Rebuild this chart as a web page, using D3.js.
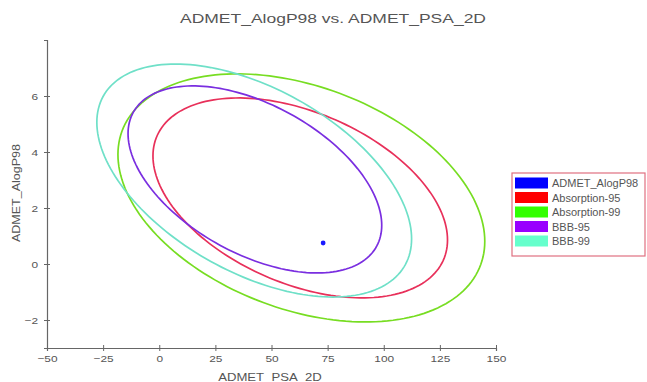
<!DOCTYPE html>
<html>
<head>
<meta charset="utf-8">
<script src="https://cdn.jsdelivr.net/npm/d3@7"></script>
<style>
  html, body { margin: 0; padding: 0; background: #fff; }
  svg { display: block; }
  text { font-family: "Liberation Sans", Arial, sans-serif; fill: #555; }
</style>
</head>
<body>
<svg id="chart" width="647" height="382"></svg>
<script>
// Compound position
const psaValues = [73];
const alogpValues = [0.75];

// Confidence ellipses: centre, half extents along each axis, and correlation
const ellipseNames = ["Absorption-95", "Absorption-99", "BBB-95", "BBB-99"];
const ellipseCx = [62.8, 63.3, 42.6, 42.3];
const ellipseCy = [2.36, 2.36, 3.02, 2.98];
const ellipseHalfX = [65.6, 81.7, 56.5, 70.1];
const ellipseHalfY = [3.57, 4.43, 3.34, 4.16];
const ellipseCorr = [-0.42, -0.35, -0.49, -0.5];

const legendLabels = ["ADMET_AlogP98", "Absorption-95", "Absorption-99", "BBB-95", "BBB-99"];
const legendColors = ["#0000ff", "#ff0000", "#33ff00", "#9900ff", "#66ffcc"];
const ellipseStroke = ["#e8305a", "#77dd22", "#7a2ee0", "#6fe0c8"];

const xTicks = [-50, -25, 0, 25, 50, 75, 100, 125, 150];
const yTicks = [-2, 0, 2, 4, 6];

const svg = d3.select("#chart");
const x = d3.scaleLinear().domain([-50, 150]).range([47, 496]);
const y = d3.scaleLinear().domain([-3, 8]).range([348, 40]);

// Title
svg.append("text")
  .attr("x", 333).attr("y", 23)
  .attr("text-anchor", "middle")
  .attr("font-size", 12.5)
  .attr("textLength", 306).attr("lengthAdjust", "spacingAndGlyphs")
  .style("fill", "#555")
  .text("ADMET_AlogP98 vs. ADMET_PSA_2D");

// Ellipses
const line = d3.line().curve(d3.curveLinearClosed).x(d => x(d[0])).y(d => y(d[1]));
ellipseNames.forEach((name, i) => {
  const delta = Math.acos(ellipseCorr[i]);
  const pts = d3.range(0, 360, 2).map(deg => {
    const t = deg * Math.PI / 180;
    return [ellipseCx[i] + ellipseHalfX[i] * Math.cos(t),
            ellipseCy[i] + ellipseHalfY[i] * Math.cos(t - delta)];
  });
  svg.append("path")
    .attr("d", line(pts))
    .attr("fill", "none")
    .attr("stroke", ellipseStroke[i])
    .attr("stroke-width", 1.7);
});

// Compound point
svg.selectAll("circle.pt").data(psaValues).join("circle")
  .attr("class", "pt")
  .attr("cx", (d, i) => x(d))
  .attr("cy", (d, i) => y(alogpValues[i]))
  .attr("r", 2.4)
  .attr("fill", "#1a1aff");

// Axes
const axisColor = "#666";
const xAxis = svg.append("g").attr("transform", `translate(0,${y(-3)})`)
  .call(d3.axisBottom(x).tickValues(xTicks).tickSize(3).tickPadding(4));
const yAxis = svg.append("g").attr("transform", `translate(${x(-50)},0)`)
  .call(d3.axisLeft(y).tickValues(yTicks).tickSize(3).tickPadding(6));
[xAxis, yAxis].forEach(g => {
  g.select(".domain").attr("stroke", axisColor).attr("stroke-width", 1.2);
  g.selectAll(".tick line").attr("stroke", axisColor);
  g.selectAll(".tick text").attr("font-size", 9.5).attr("class", "wide")
    .style("fill", "#555")
    .attr("font-family", "Liberation Sans, Arial, sans-serif");
});
// ticks cross the axis line
xAxis.selectAll(".tick").append("line").attr("y2", -3).attr("stroke", axisColor);
yAxis.selectAll(".tick").append("line").attr("x2", 3).attr("stroke", axisColor);

// Axis titles
svg.append("text")
  .attr("x", 270).attr("y", 381)
  .attr("text-anchor", "middle").attr("font-size", 10.5)
  .attr("class", "wide")
  .style("fill", "#555")
  .text("ADMET_PSA_2D");
svg.append("text")
  .attr("transform", "translate(20,193) rotate(-90)")
  .attr("text-anchor", "middle").attr("font-size", 11)
  .attr("textLength", 98).attr("lengthAdjust", "spacingAndGlyphs")
  .style("fill", "#555")
  .text("ADMET_AlogP98");

// Legend
const legend = svg.append("g").attr("transform", "translate(512,173)");
legend.append("rect")
  .attr("width", 133).attr("height", 83)
  .attr("fill", "#fff").attr("stroke", "#e07080").attr("stroke-width", 1.2);
legendLabels.forEach((lab, i) => {
  const row = legend.append("g").attr("transform", `translate(3,${10 + i * 14.5})`);
  row.append("rect").attr("x", 0).attr("y", -5.5).attr("width", 33).attr("height", 11)
    .attr("fill", legendColors[i]);
  row.append("text").attr("x", 37).attr("y", 4).attr("font-size", 11)
    .style("fill", "#555").text(lab);
});

// Horizontally widened lettering
svg.selectAll("text.wide").each(function () {
  const len = this.getComputedTextLength();
  d3.select(this).attr("textLength", len * 1.25).attr("lengthAdjust", "spacingAndGlyphs");
});
</script>
</body>
</html>
